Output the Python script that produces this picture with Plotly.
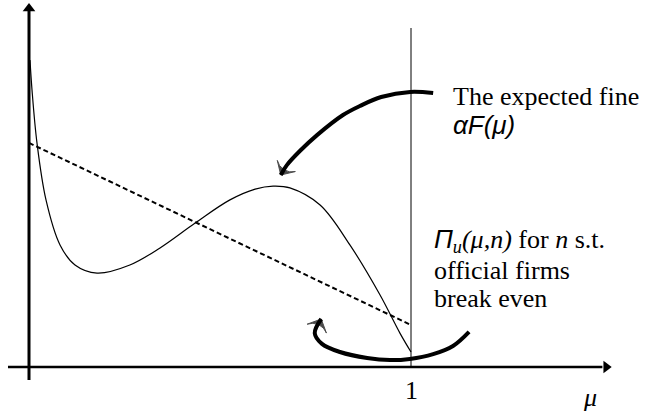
import plotly.graph_objects as go

# Data units: mu along x (0..1 is the relevant interval), payoff along y.
mu_profit = [0.0026, 0.0079, 0.0209, 0.0445, 0.0812, 0.1204, 0.178, 0.264, 0.343,
             0.435, 0.526, 0.592, 0.639, 0.683, 0.762, 0.840, 0.919, 0.971, 1.0]
profit = [1.023, 0.923, 0.747, 0.557, 0.407, 0.340, 0.313, 0.340, 0.397,
          0.480, 0.557, 0.593, 0.603, 0.597, 0.540, 0.407, 0.240, 0.113, 0.050]

mu_fine = [0.0, 1.0]
fine = [0.747, 0.14]

# Curved pointer arrows (label -> curve); the last point is the arrow tip
arrow1_x = [1.058, 0.998, 0.922, 0.866, 0.822, 0.754, 0.709, 0.675, 0.659]
arrow1_y = [0.913, 0.917, 0.900, 0.870, 0.840, 0.773, 0.720, 0.673, 0.640]
arrow2_x = [1.152, 1.110, 1.058, 0.997, 0.945, 0.885, 0.814, 0.767, 0.748, 0.765]
arrow2_y = [0.117, 0.070, 0.043, 0.027, 0.023, 0.030, 0.050, 0.077, 0.113, 0.160]

# Axis extents
Y_AXIS = [-0.043, 1.207]
X_AXIS = [-0.055, 1.521]

X_RANGE = [-29 / 382, (645 - 29) / 382]
Y_RANGE = [(367 - 414) / 300, 367 / 300]

fig = go.Figure()

# axes
fig.add_shape(type="line", x0=0, x1=0, y0=Y_AXIS[0], y1=Y_AXIS[1] - 0.02,
              xref="x", yref="y", line=dict(color="black", width=3))
fig.add_shape(type="line", x0=X_AXIS[0], x1=X_AXIS[1] - 0.02, y0=0, y1=0,
              xref="x", yref="y", line=dict(color="black", width=2.5))
fig.add_trace(go.Scatter(x=[0], y=[Y_AXIS[1] - 0.012], mode="markers",
                         marker=dict(symbol="triangle-up", size=11, color="black"),
                         hoverinfo="skip"))
fig.add_trace(go.Scatter(x=[X_AXIS[1] - 0.01], y=[0], mode="markers",
                         marker=dict(symbol="triangle-right", size=11, color="black"),
                         hoverinfo="skip"))

# vertical reference line at mu = 1
fig.add_shape(type="line", x0=1, x1=1, y0=0, y1=1.13, xref="x", yref="y",
              line=dict(color="black", width=1))

fig.add_trace(go.Scatter(x=mu_profit, y=profit, mode="lines", line_shape="spline",
                         line=dict(color="black", width=1.2), hoverinfo="skip"))
fig.add_trace(go.Scatter(x=mu_fine, y=fine, mode="lines",
                         line=dict(color="black", width=2, dash="5px,3px"), hoverinfo="skip"))
for ax_, ay_ in ((arrow1_x, arrow1_y), (arrow2_x, arrow2_y)):
    sizes = [0] * (len(ax_) - 1) + [15]
    fig.add_trace(go.Scatter(x=ax_, y=ay_, mode="lines+markers", line_shape="spline",
                             line=dict(color="black", width=4),
                             marker=dict(symbol="arrow-wide", size=sizes, color="black",
                                         angleref="previous",
                                         line=dict(width=1, color="black")),
                             hoverinfo="skip"))

ann = []
serif = "Times New Roman, Liberation Serif, serif"
sans = "Arial, Liberation Sans, sans-serif"
FS = 26


def label(x, y, text, xanchor="left", family=serif, size=FS):
    ann.append(dict(x=x, y=y, xref="x", yref="y", text=text, showarrow=False,
                    xanchor=xanchor, yanchor="middle",
                    font=dict(family=family, size=size, color="black")))


label(1.105, 0.903, "The expected fine")
label(1.105, 0.806, "<i>αF(μ)</i>", family=sans, size=26)
label(1.055, 0.423, '<i><span style="font-family:Arial">Π</span>'
                    '<sub>u</sub>(μ,n)</i> for <i>n</i> s.t.')
label(1.055, 0.323, "official firms")
label(1.055, 0.230, "break even")
label(1.0, -0.077, "1", xanchor="center")
label(1.469, -0.103, "<i>μ</i>", xanchor="center")

fig.update_layout(
    width=645, height=414, margin=dict(l=0, r=0, t=0, b=0),
    paper_bgcolor="white", plot_bgcolor="white", showlegend=False,
    xaxis=dict(range=X_RANGE, visible=False, fixedrange=True),
    yaxis=dict(range=Y_RANGE, visible=False, fixedrange=True),
    annotations=ann,
)

fig.write_html("out.html")
